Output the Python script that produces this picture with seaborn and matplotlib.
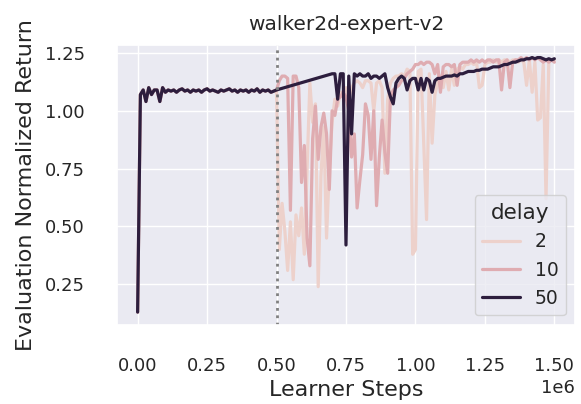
import matplotlib
matplotlib.use('Agg')
import matplotlib.pyplot as plt
import numpy as np
import pandas as pd
import seaborn as sns

# evaluation returns, one value every 10k learner steps
pre_steps = np.arange(0, 500001, 10000)  # shared pretraining phase
pre_return = [0.13, 1.07, 1.09, 1.04, 1.10, 1.07, 1.09, 1.09, 1.04, 1.10, 1.08,
              1.09, 1.085, 1.09, 1.08, 1.09, 1.095, 1.085, 1.09, 1.08, 1.09,
              1.085, 1.09, 1.08, 1.09, 1.095, 1.085, 1.09, 1.085, 1.08, 1.09,
              1.085, 1.09, 1.095, 1.085, 1.09, 1.08, 1.09, 1.085, 1.09, 1.08,
              1.09, 1.085, 1.095, 1.08, 1.09, 1.085, 1.09, 1.08, 1.085, 1.09]

post_steps = np.arange(510000, 1500001, 10000)
delay2_post = [0.40, 0.60, 0.48, 0.31, 0.52, 0.27, 0.55, 0.46, 0.58, 0.38,
               0.75, 1.12, 0.95, 1.03, 0.24, 0.72, 0.93, 0.45, 0.75, 0.95,
               1.05, 1.02, 1.08, 1.08, 1.10, 1.05, 1.10, 1.12, 1.13, 1.12,
               1.10, 1.13, 1.13, 1.12, 1.00, 1.12, 1.13, 1.10, 0.73, 1.05,
               1.12, 1.14, 1.15, 1.15, 1.16, 1.15, 1.18, 1.17, 0.38, 0.40,
               1.17, 1.18, 0.86, 0.53, 1.16, 0.86, 1.07, 1.12, 1.15, 1.10,
               1.17, 1.09, 1.18, 1.11, 1.18, 1.19, 1.18, 1.20, 1.20, 1.21,
               1.20, 1.21, 1.10, 1.11, 1.20, 1.21, 1.21, 1.22, 1.21, 1.22,
               1.21, 1.22, 1.22, 1.21, 1.22, 1.22, 1.21, 1.22, 1.21, 1.11,
               1.22, 1.08, 1.21, 0.96, 0.97, 1.20, 0.62, 1.21, 1.22, 1.22]
delay10_post = [1.13, 1.15, 1.15, 1.14, 0.57, 1.15, 1.15, 1.10, 0.69, 0.85,
                0.45, 0.33, 0.88, 1.02, 0.79, 0.93, 0.99, 0.90, 0.66, 1.00,
                0.98, 1.05, 1.06, 1.08, 1.06, 1.00, 0.80, 0.90, 0.58, 0.70,
                0.81, 1.03, 0.98, 0.79, 1.00, 0.59, 0.80, 0.96, 0.82, 0.73,
                1.06, 1.09, 1.10, 1.11, 1.13, 1.14, 1.16, 1.17, 1.18, 1.20,
                1.20, 1.21, 1.20, 1.21, 1.21, 1.20, 1.16, 1.20, 1.08, 1.19,
                1.20, 1.20, 1.19, 1.20, 1.11, 1.20, 1.21, 1.21, 1.21, 1.22,
                1.21, 1.22, 1.21, 1.22, 1.21, 1.22, 1.22, 1.21, 1.22, 1.22,
                1.09, 1.21, 1.22, 1.10, 1.21, 1.22, 1.22, 1.23, 1.22, 1.23,
                1.22, 1.23, 1.22, 1.23, 1.22, 1.21, 1.22, 1.21, 1.22, 1.21]

# delay 50 has no evals logged between 0.5M and 0.7M
d50_steps = np.arange(700000, 1500001, 10000)
delay50_post = [1.16, 1.16, 1.05, 1.16, 1.16, 0.42, 1.15, 0.90, 1.16, 1.15,
                1.16, 1.15, 1.15, 1.16, 1.14, 1.15, 1.15, 1.14, 1.15, 1.16,
                1.10, 1.06, 1.03, 1.12, 1.14, 1.15, 1.14, 1.09, 1.13, 1.14,
                1.14, 1.09, 1.14, 1.09, 1.14, 1.13, 1.08, 1.13, 1.14, 1.14,
                1.145, 1.15, 1.15, 1.15, 1.155, 1.15, 1.16, 1.16, 1.165, 1.17,
                1.17, 1.17, 1.175, 1.175, 1.18, 1.18, 1.18, 1.185, 1.19, 1.19,
                1.19, 1.195, 1.20, 1.20, 1.205, 1.21, 1.21, 1.215, 1.22, 1.22,
                1.225, 1.225, 1.23, 1.225, 1.23, 1.23, 1.225, 1.22, 1.225, 1.22,
                1.225]

delays = [2, 10, 50]

frames = []
for d, xs, ys in [(2, post_steps, delay2_post), (10, post_steps, delay10_post),
                  (50, d50_steps, delay50_post)]:
    frames.append(pd.DataFrame({'step': pre_steps, 'ret': pre_return, 'delay': d}))
    frames.append(pd.DataFrame({'step': xs, 'ret': ys, 'delay': d}))
df = pd.concat(frames, ignore_index=True)

sns.set_theme(style='darkgrid')
fig, ax = plt.subplots(figsize=(5.81, 4.04), dpi=100)
fig.subplots_adjust(left=0.201, right=0.990, top=0.889, bottom=0.196)

sns.lineplot(data=df, x='step', y='ret', hue='delay', linewidth=2.3, ax=ax)
ax.axvline(500000, color='gray', linestyle=':', linewidth=2)

ax.set_title('walker2d-expert-v2', fontsize=14.5, pad=11)
ax.set_xlabel('Learner Steps', fontsize=16, labelpad=4)
ax.set_ylabel('Evaluation Normalized Return', fontsize=16, labelpad=6)
ax.tick_params(labelsize=13, pad=17)
ax.xaxis.get_offset_text().set_fontsize(13)
ax.set_yticks([0.25, 0.5, 0.75, 1.0, 1.25])

leg = ax.legend(title='delay', loc='lower right', fontsize=13.5, title_fontsize=15.5)
for line in leg.get_lines():
    line.set_linewidth(2.3)

fig.savefig('out.png', dpi=100)
